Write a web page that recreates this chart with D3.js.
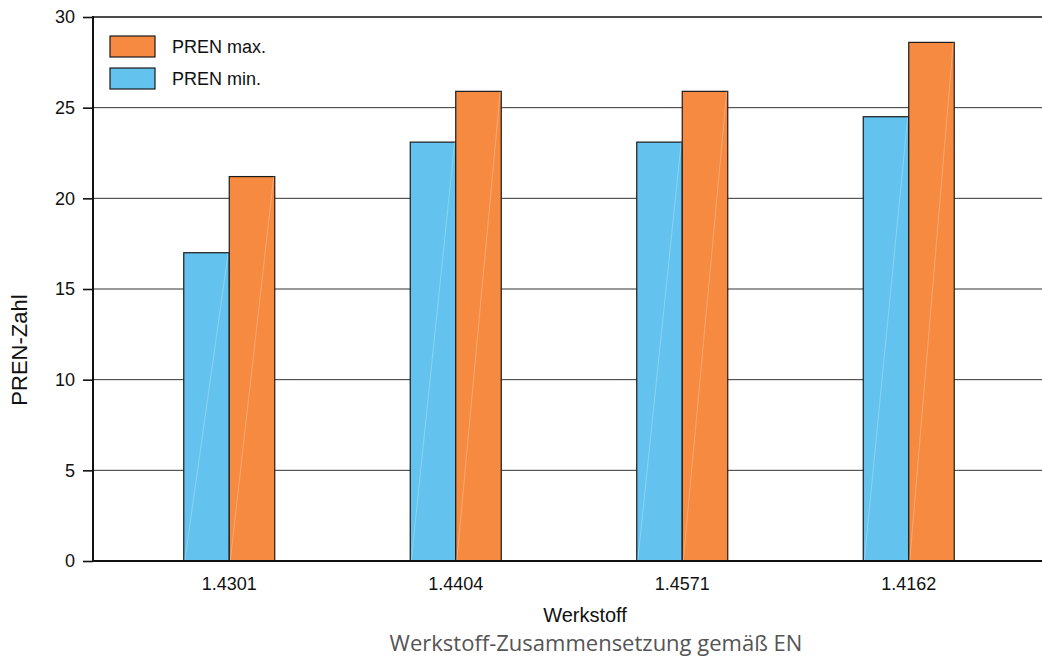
<!DOCTYPE html>
<html><head><meta charset="utf-8">
<script src="https://cdn.jsdelivr.net/npm/d3@7"></script>
<style>body{margin:0;background:#fff}svg{display:block}</style>
</head><body>
<svg id="c" width="1042" height="656"></svg>
<script>
const categories = ["1.4301", "1.4404", "1.4571", "1.4162"];
const prenMin = [17.0, 23.1, 23.1, 24.5];
const prenMax = [21.2, 25.9, 25.9, 28.6];
const yTicks = [0, 5, 10, 15, 20, 25, 30];
const seriesNames = ["PREN min.", "PREN max."];
const colors = {"PREN min.": "#63C3EE", "PREN max.": "#F58A40"};

(function () {
const svg = d3.select("#c");
const font = "'Liberation Sans', Arial, sans-serif";
const pLeft = 93, pRight = 1042, pTop = 17, pBottom = 561;

const y = d3.scaleLinear().domain([0, 30]).range([pBottom, pTop]);
const x0 = d3.scaleBand().domain(categories).range([116, 1022]).paddingInner(0).paddingOuter(0);
const x1 = d3.scaleBand().domain(seriesNames).range([x0.bandwidth()/2 - 45.5, x0.bandwidth()/2 + 45.5]);

// grid
svg.append("g").selectAll("line").data(yTicks.filter(d => d > 0)).join("line")
  .attr("x1", pLeft).attr("x2", pRight)
  .attr("y1", d => y(d)).attr("y2", d => y(d))
  .attr("stroke", d => d === 30 ? "#111" : "#333").attr("stroke-width", d => d === 30 ? 1.6 : 1);

// bars
const data = categories.map((c, i) => ({c, vals: [{k: "PREN min.", v: prenMin[i]}, {k: "PREN max.", v: prenMax[i]}]}));
const g = svg.append("g").selectAll("g").data(data).join("g")
  .attr("transform", d => `translate(${x0(d.c)},0)`);
const bars = g.selectAll("g").data(d => d.vals).join("g");
bars.append("rect")
  .attr("x", d => x1(d.k)).attr("width", x1.bandwidth())
  .attr("y", d => y(d.v)).attr("height", d => y(0) - y(d.v))
  .attr("fill", d => colors[d.k]).attr("stroke", "#1a1a1a").attr("stroke-width", 1.2);
bars.append("line")
  .attr("x1", d => x1(d.k) + 1).attr("y1", y(0))
  .attr("x2", d => x1(d.k) + x1.bandwidth() - 1).attr("y2", d => y(d.v))
  .attr("stroke", "#fff").attr("stroke-opacity", 0.25).attr("stroke-width", 1);

// axes
const yAxis = d3.axisLeft(y).tickValues(yTicks).tickSize(10).tickPadding(8);
const ya = svg.append("g").attr("transform", `translate(${pLeft},0)`).call(yAxis);
ya.select(".domain").remove();
ya.selectAll(".tick line").attr("stroke", "#111").attr("stroke-width", 1.6);
ya.selectAll("text").attr("font-family", font).attr("font-size", 18).attr("fill", "#111");
svg.append("line").attr("x1", pLeft).attr("x2", pLeft).attr("y1", pTop - 1).attr("y2", pBottom + 1)
  .attr("stroke", "#111").attr("stroke-width", 2);
svg.append("line").attr("x1", pLeft).attr("x2", pRight).attr("y1", pBottom).attr("y2", pBottom)
  .attr("stroke", "#111").attr("stroke-width", 2);

const xAxis = d3.axisBottom(x0).tickSize(0).tickPadding(16);
const xa = svg.append("g").attr("transform", `translate(0,${pBottom})`).call(xAxis);
xa.select(".domain").remove();
xa.selectAll("text").attr("font-family", font).attr("font-size", 18).attr("fill", "#111");

// titles
svg.append("text").attr("x", 585).attr("y", 622).attr("text-anchor", "middle")
  .attr("font-family", font).attr("font-size", 20).attr("fill", "#111").text("Werkstoff");
svg.append("text").attr("x", 596).attr("y", 651).attr("text-anchor", "middle")
  .attr("font-family", "'Open Sans', 'Noto Sans', sans-serif").attr("font-size", 22).attr("fill", "#555")
  .text("Werkstoff-Zusammensetzung gemäß EN");
svg.append("text").attr("transform", "translate(27,350) rotate(-90)").attr("text-anchor", "middle")
  .attr("font-family", font).attr("font-size", 22).attr("fill", "#111").text("PREN-Zahl");

// legend
const legendItems = ["PREN max.", "PREN min."];
const lg = svg.append("g").selectAll("g").data(legendItems).join("g")
  .attr("transform", (d, i) => `translate(110,${36 + i * 32})`);
lg.append("rect").attr("width", 45).attr("height", 21)
  .attr("fill", d => colors[d]).attr("stroke", "#1a1a1a").attr("stroke-width", 1.2);
lg.append("text").attr("x", 62).attr("y", 17).attr("font-family", font).attr("font-size", 18)
  .attr("fill", "#111").text(d => d);
})();
</script>
</body></html>
